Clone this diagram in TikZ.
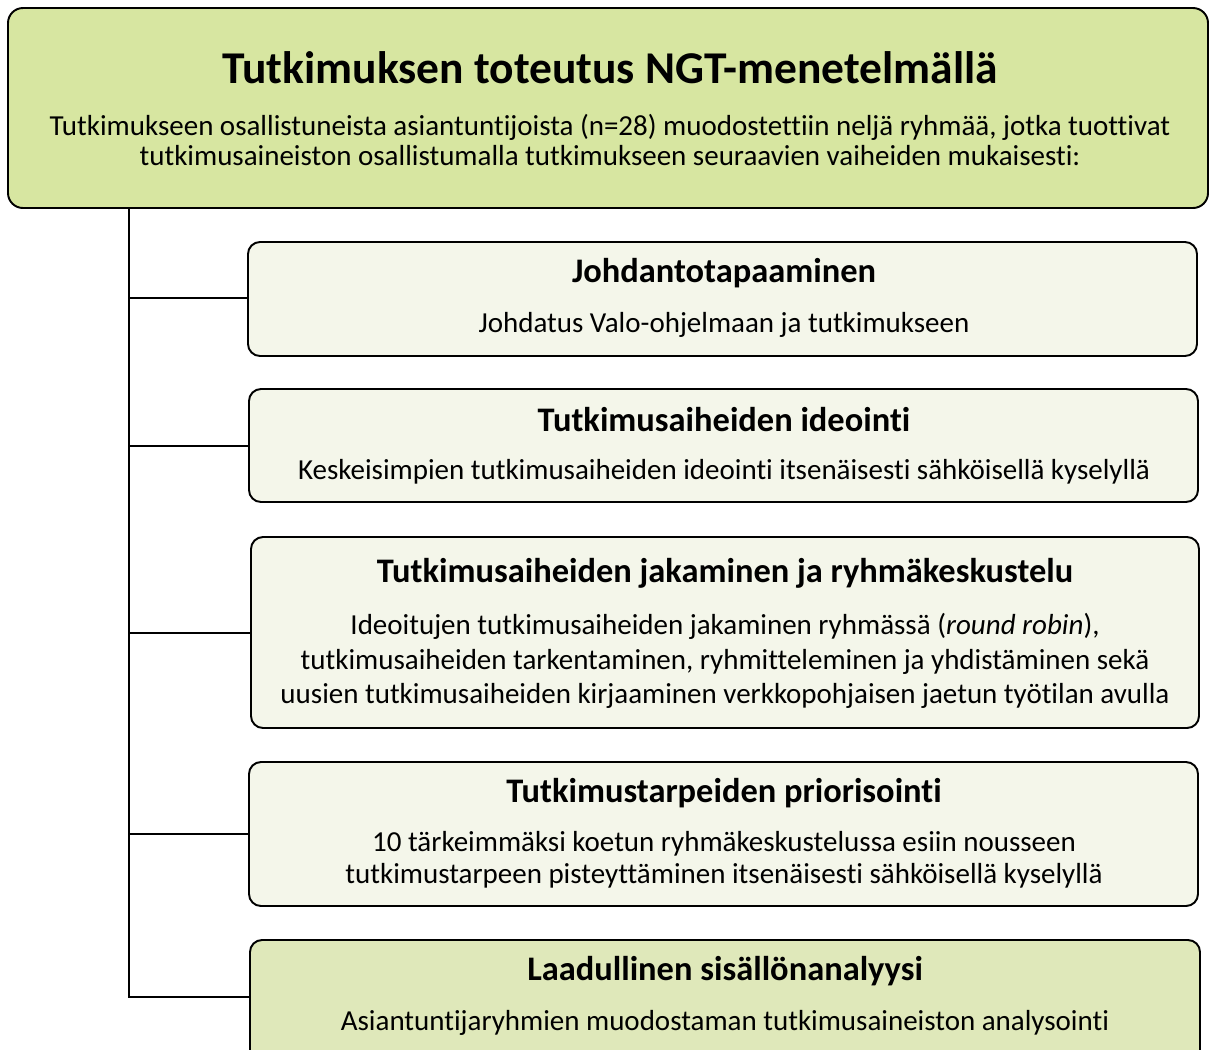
\documentclass[tikz,border=0pt]{standalone}
\usepackage{fontspec}
\setmainfont{Carlito}[Ligatures=NoCommon]
\usetikzlibrary{positioning,fit}
\definecolor{hdrgreen}{HTML}{D7E6A1}
\definecolor{stepfill}{HTML}{F4F6EA}
\definecolor{lastfill}{HTML}{DFE8BA}
\begin{document}
\begin{tikzpicture}
[x=0.02cm,y=-0.02cm,thick,%
  box/.style={draw,line width=1.1pt,inner sep=0pt,rounded corners=0.24cm,fill=stepfill},%
  ttl/.style={font=\fontsize{19.6}{23}\selectfont\bfseries,inner sep=0pt},%
  txt/.style={font=\fontsize{16.5}{17.6}\selectfont,inner sep=0pt,align=center}]
\useasboundingbox (0,0) rectangle (1210,1049);
\clip (0,0) rectangle (1210,1049);
% header
\node[box,rounded corners=0.3cm,fill=hdrgreen,fit={(8,8) (1208,208)}] (hdr) {};
\node[font=\fontsize{25.9}{30}\selectfont\bfseries,inner sep=0pt] (hdrttl) at (610,68) {Tutkimuksen toteutus NGT-menetelmällä};
\node[txt] (hdrtxt) at (610,140) {Tutkimukseen osallistuneista asiantuntijoista (n=28) muodostettiin neljä ryhmää, jotka tuottivat\\
  tutkimusaineiston osallistumalla tutkimukseen seuraavien vaiheiden mukaisesti:};
% steps
\node[box,fit={(248,242) (1197,356)}] (b1) {};
\node[ttl] (t1) at (724,273) {Johdantotapaaminen};
\node[txt] (d1) at (724,325) {Johdatus Valo-ohjelmaan ja tutkimukseen};
\node[box,fit={(249,389) (1198,502)}] (b2) {};
\node[ttl] (t2) at (724,420) {Tutkimusaiheiden ideointi};
\node[txt] (d2) at (724,472) {Keskeisimpien tutkimusaiheiden ideointi itsenäisesti sähköisellä kyselyllä};
\node[box,fit={(251,537) (1199,728)}] (b3) {};
\node[ttl] (t3) at (725,573) {Tutkimusaiheiden jakaminen ja ryhmäkeskustelu};
\node[txt,font=\fontsize{16.5}{19.8}\selectfont] (d3) at (725,661) {Ideoitujen tutkimusaiheiden jakaminen ryhmässä (\textit{round robin}),\\
  tutkimusaiheiden tarkentaminen, ryhmitteleminen ja yhdistäminen sekä\\
  uusien tutkimusaiheiden kirjaaminen verkkopohjaisen jaetun työtilan avulla};
\node[box,fit={(249,762) (1198,906)}] (b4) {};
\node[ttl] (t4) at (724,793) {Tutkimustarpeiden priorisointi};
\node[txt,font=\fontsize{16.5}{18}\selectfont] (d4) at (724,860) {10 tärkeimmäksi koetun ryhmäkeskustelussa esiin nousseen\\
  tutkimustarpeen pisteyttäminen itsenäisesti sähköisellä kyselyllä};
\node[box,fill=lastfill,fit={(250,940) (1200,1070)}] (b5) {};
\node[ttl] (t5) at (725,971) {Laadullinen sisällönanalyysi};
\node[txt] (d5) at (725,1023) {Asiantuntijaryhmien muodostaman tutkimusaineiston analysointi};
% connectors
\coordinate (trunk) at (129,208);
\draw[line width=1.1pt] (trunk) |- (b5.west |- 0,997);
\foreach \b/\y in {b1/298,b2/446,b3/633,b4/834}
  \draw[line width=1.1pt] (trunk |- 0,\y) -- (\b.west |- 0,\y);
\end{tikzpicture}
\end{document}
